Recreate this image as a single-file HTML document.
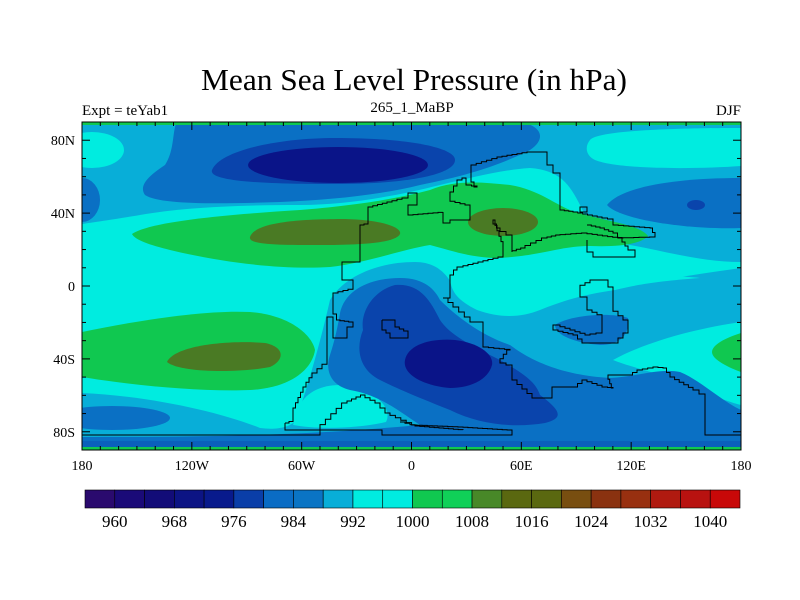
<!DOCTYPE html>
<html><head><meta charset="utf-8"><style>
html,body{margin:0;padding:0;background:#fff;}
svg{display:block;font-family:"Liberation Serif",serif;}
</style></head><body>
<svg id="chart" width="800" height="600" viewBox="0 0 800 600" xmlns="http://www.w3.org/2000/svg">
<text x="414" y="90" font-size="31" text-anchor="middle" textLength="426" lengthAdjust="spacingAndGlyphs">Mean Sea Level Pressure (in hPa)</text>
<text x="82" y="115" font-size="15">Expt = teYab1</text>
<text x="412" y="112" font-size="15" text-anchor="middle">265_1_MaBP</text>
<text x="741" y="115" font-size="15" text-anchor="end">DJF</text>
<defs><clipPath id="pc"><rect x="82" y="122" width="659" height="328"/></clipPath></defs>
<g clip-path="url(#pc)">
<rect x="82" y="122" width="659" height="328" fill="#00ece0"/>
<path fill="#08aed8" d="M82,122 H741 V262 C700,262 660,250 630,245 C600,240 590,225 580,205 C570,185 560,170 530,168 C500,170 470,178 440,185 C400,195 350,205 300,205 C230,205 180,208 140,215 C110,220 95,222 82,224 Z"/>
<path fill="#00ece0" d="M590,140 C600,127 741,128 741,128 V166 C700,169 620,170 595,160 C585,155 585,146 590,140 Z"/>
<ellipse cx="92" cy="150" rx="32" ry="18" fill="#00ece0"/>
<path fill="#0a70c4" d="M177,122 H520 C540,125 548,138 530,150 C500,165 470,175 420,185 C380,195 330,200 280,202 C220,204 160,205 145,195 C138,185 150,175 165,165 C175,150 172,130 177,122 Z"/>
<path fill="#0a44ac" d="M212,170 C220,150 280,138 335,138 C410,138 455,148 455,160 C455,174 410,184 335,184 C270,184 208,182 212,170 Z"/>
<ellipse cx="338" cy="165" rx="90" ry="18" fill="#0a1488"/>
<path fill="#0a70c4" d="M607,205 C620,188 670,178 741,178 V228 C690,230 620,220 607,205 Z"/>
<ellipse cx="82" cy="200" rx="18" ry="22" fill="#0a70c4"/>
<ellipse cx="696" cy="205" rx="9" ry="5" fill="#0a44ac"/>
<path fill="#10c850" d="M132,234 C150,222 220,215 300,210 C360,205 400,198 430,190 C455,180 480,182 510,185 C540,190 555,205 575,212 C610,222 640,225 648,236 C640,245 615,247 590,246 C560,246 545,255 500,258 C470,258 450,250 430,245 C400,250 370,262 330,267 C280,270 220,262 170,250 C150,245 135,240 132,234 Z"/>
<path fill="#4a7a24" d="M250,237 C255,222 300,219 345,219 C385,220 402,228 400,234 C396,243 360,245 320,245 C280,245 248,245 250,237 Z"/>
<ellipse cx="503" cy="222" rx="35" ry="14" fill="#4a7a24"/>
<path fill="#08aed8" d="M330,300 C345,275 380,262 415,262 C445,262 452,285 462,300 C500,318 540,300 590,292 C630,285 690,275 741,268 V450 H82 V393 C150,396 220,412 260,428 C275,430 290,428 296,420 C310,380 322,335 330,300 Z"/>
<path fill="#00ece0" d="M450,280 C452,292 457,300 477,310 C500,318 520,318 540,310 C560,302 580,295 615,290 C640,284 660,281 700,278 C670,275 600,272 560,272 C520,272 480,270 450,280 Z"/>
<path fill="#00ece0" d="M613,360 C650,340 700,328 741,322 V405 C720,400 690,385 667,377 C645,370 625,365 613,360 Z"/>
<path fill="#10c850" d="M741,333 C725,338 712,345 712,352 C712,360 730,368 741,372 Z"/>
<path fill="#00ece0" d="M293,425 L300,405 C310,385 340,380 365,390 C380,398 392,410 386,422 C360,428 320,430 293,425 Z"/>
<path fill="#0a70c4" d="M340,313 C345,290 370,278 400,278 C425,278 435,290 440,300 C455,315 480,335 510,345 C530,360 560,375 610,378 C640,376 660,368 680,372 C700,380 720,400 741,410 V450 H82 V437 C200,437 300,436 420,425 C400,412 380,395 350,390 C330,385 325,370 330,355 C335,340 338,325 340,313 Z"/>
<path fill="#0a70c4" d="M555,325 C570,315 610,312 628,318 C630,335 620,345 600,345 C575,343 555,335 555,325 Z"/>
<path fill="#0a44ac" d="M363,330 C360,310 375,290 395,285 C420,283 430,300 440,320 C450,335 470,345 500,360 C520,372 535,380 540,395 C560,410 565,418 545,423 C515,428 480,425 450,410 C420,398 400,390 380,380 C360,370 355,350 363,330 Z"/>
<path fill="#0a1488" d="M405,360 C408,345 430,338 455,340 C480,343 494,355 492,365 C488,380 470,388 450,388 C425,386 402,375 405,360 Z"/>
<path fill="#10c850" d="M82,332 C150,318 210,310 250,312 C290,315 312,335 315,350 C312,370 290,388 250,390 C200,392 130,385 82,377 Z"/>
<path fill="#4a7a24" d="M167,362 C175,345 230,340 265,343 C285,347 285,360 270,367 C240,373 180,373 167,362 Z"/>
<ellipse cx="112" cy="418" rx="58" ry="12" fill="#0a70c4"/>
<rect x="82" y="441" width="659" height="6" fill="#0a60bc"/>
<rect x="82" y="122" width="659" height="3" fill="#10c850"/>
<rect x="82" y="447" width="659" height="3" fill="#10c850"/>
</g>
<g id="coast" fill="none" stroke="#000" stroke-width="1" clip-path="url(#pc)"></g>
<rect x="82" y="122" width="659" height="328" fill="none" stroke="#000" stroke-width="1"/>
<g id="axes"></g>
<g id="cbar"></g>
</svg>
<script>
const lonTicks=[-180,-120,-60,0,60,120,180];
const lonLabels=["180","120W","60W","0","60E","120E","180"];
const latTicks=[80,40,0,-40,-80];
const latLabels=["80N","40N","0","40S","80S"];
const cbColors=['#2a0a6e','#1a0a78','#120c78','#0c1484','#081a8c','#0a3ea8','#0a6cc4','#0a74c4','#08aed8','#00ece0','#00ece0','#10c850','#10d058','#488828','#5a6810','#5a6810','#784e10','#8a3210','#983010','#b01a10','#b81210','#c80808'];
const cbLevels=[960,968,976,984,992,1000,1008,1016,1024,1032,1040];
const NS='http://www.w3.org/2000/svg';
const X0=82,X1=741,Y0=122,Y1=450;
function xLon(l){return X0+(l+180)/360*(X1-X0);}
function yLat(l){return Y0+(90-l)/180*(Y1-Y0);}
function mk(t,a,p){const e=document.createElementNS(NS,t);for(const k in a)e.setAttribute(k,a[k]);p.appendChild(e);return e;}
const ax=document.getElementById('axes');
for(let l=-180;l<=180;l+=10){const x=xLon(l);const len=(l%60===0)?8:4;
 const t1=mk('line',{x1:x,y1:Y0,x2:x,y2:Y0+len,stroke:'#000'},ax);
 
 
 const t2=mk('line',{x1:x,y1:Y1,x2:x,y2:Y1-len,stroke:'#000'},ax);
 
 }
for(let l=-90;l<=90;l+=10){const y=yLat(l);const len=(l%40===0)?8:4;
 const t1=mk('line',{x1:X0,y1:y,x2:X0+len,y2:y,stroke:'#000'},ax);
 
 
 const t2=mk('line',{x1:X1,y1:y,x2:X1-len,y2:y,stroke:'#000'},ax);
 
 }
lonTicks.forEach((l,i)=>{const t=mk('text',{x:xLon(l),y:470,'font-size':14,'text-anchor':'middle'},ax);t.textContent=lonLabels[i];
 
 });
latTicks.forEach((l,i)=>{const t=mk('text',{x:75,y:yLat(l)+5,'font-size':14,'text-anchor':'end'},ax);t.textContent=latLabels[i];
 
 });
const cb=document.getElementById('cbar');
const CB0=85,CB1=740,CBY=490,CBH=18;
const bw=(CB1-CB0)/cbColors.length;
function cbX(v){return CB0+bw*(1+(v-960)/4);}
cbColors.forEach((c,i)=>{const r=mk('rect',{x:CB0+i*bw,y:CBY,width:bw,height:CBH,fill:c,stroke:'#000','stroke-width':0.6},cb);
 
 });
cbLevels.forEach(v=>{const t=mk('text',{x:cbX(v),y:527,'font-size':17,'text-anchor':'middle'},cb);t.textContent=v;
 
 });
// coastline outlines (stair-stepped grid boundaries)
const coastMain=[[285,423],[293,420],[293,408],[303,387],[312,373],[327,360],[327,317],[333,317],[333,338],[347,338],[347,327],[353,322],[340,320],[333,308],[333,293],[353,288],[353,280],[342,280],[342,262],[360,262],[360,225],[368,223],[368,207],[387,202],[402,198],[408,193],[417,193],[417,205],[408,205],[408,215],[443,212],[443,223],[450,220],[470,220],[470,205],[450,200],[450,192],[457,180],[462,178],[466,185],[477,187],[471,177],[471,165],[497,157],[527,152],[547,152],[547,165],[553,165],[553,173],[560,173],[560,210],[573,212],[602,218],[613,220],[613,225],[650,228],[655,237],[623,238],[587,233],[560,235],[547,238],[525,248],[512,252],[512,235],[500,228],[493,220],[503,247],[503,257],[463,267],[457,270],[450,280],[450,298],[443,298],[453,307],[470,322],[483,322],[483,347],[510,350],[500,363],[512,367],[512,380],[532,398],[552,398],[552,387],[573,387],[582,380],[602,387],[613,388],[608,375],[628,375],[637,370],[653,367],[663,368],[670,377],[693,390],[705,398],[705,435],[741,435]];
const coastSouth=[[82,435],[320,435],[320,430],[382,430],[382,435],[512,435],[512,430],[463,427],[417,425],[390,413],[380,403],[365,395],[347,403],[320,430],[288,430],[285,423]];
const coastAus=[[580,288],[580,297],[587,297],[587,310],[602,317],[602,333],[590,335],[575,330],[560,325],[553,325],[553,330],[573,335],[582,343],[613,343],[628,328],[628,320],[613,307],[613,287],[608,280],[595,280],[580,288]];
const coastIsle=[[382,320],[395,320],[395,327],[408,333],[408,338],[397,338],[390,333],[382,327],[382,320]];
const coastEast=[[587,225],[600,228],[613,233],[622,242],[628,250],[635,257],[593,257],[593,252],[587,247],[587,240]];
const coastSW=[[400,422],[415,426],[463,430]];
function stairs(pts){let d='M'+pts[0][0]+','+pts[0][1];
 for(let i=1;i<pts.length;i++){const [x0,y0]=pts[i-1],[x1,y1]=pts[i];const dx=x1-x0,dy=y1-y0;
  if(dx===0||dy===0){d+=' L'+x1+','+y1;continue;}
  const n=Math.max(1,Math.round(Math.max(Math.abs(dx),Math.abs(dy))/5));
  for(let k=1;k<=n;k++){d+=' H'+(x0+dx*k/n).toFixed(1)+' V'+(y0+dy*k/n).toFixed(1);}}
 return d;}
const cg=document.getElementById('coast');
[coastMain,coastSouth,coastAus,coastIsle,coastEast,coastSW].forEach(p=>{const e=mk('path',{d:stairs(p)},cg);
 
 });
mk('rect',{x:580,y:207,width:7,height:5},cg);
</script>
</body></html>
